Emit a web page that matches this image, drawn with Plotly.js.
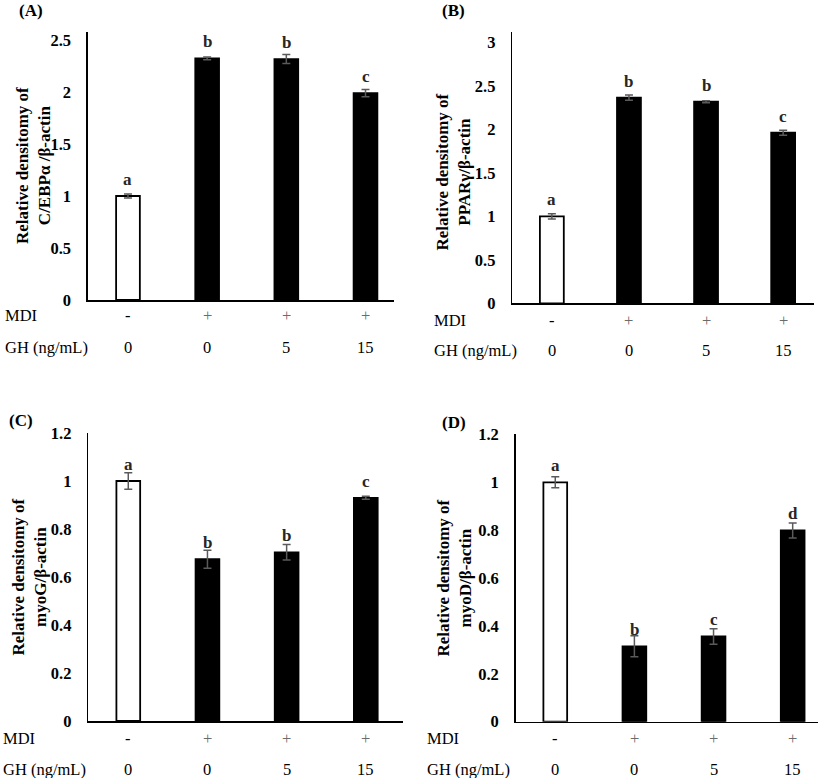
<!DOCTYPE html>
<html>
<head>
<meta charset="utf-8">
<script src="https://cdn.plot.ly/plotly-3.0.1.min.js"></script>
<style>html,body{margin:0;padding:0;background:#fff;}#chart{width:827px;height:778px;}</style>
</head>
<body>
<div id="chart"></div>
<script>
// ---- data ----
const categories = ['Control', 'MDI', 'MDI + GH 5', 'MDI + GH 15'];
const mdiLabels = ['-', '+', '+', '+'];
const ghLabels = ['0', '0', '5', '15'];

const cebpaValues = [1.0, 2.324, 2.317, 1.99];
const cebpaErrors = [0.02, 0.013, 0.043, 0.035];
const cebpaLetters = ['a', 'b', 'b', 'c'];

const ppargValues = [1.0, 2.363, 2.317, 1.961];
const ppargErrors = [0.03, 0.03, 0.012, 0.029];
const ppargLetters = ['a', 'b', 'b', 'c'];

const myogValues = [1.0, 0.674, 0.703, 0.930];
const myogErrors = [0.034, 0.0375, 0.032, 0.006];
const myogLetters = ['a', 'b', 'b', 'c'];

const myodValues = [1.0, 0.315, 0.356, 0.799];
const myodErrors = [0.023, 0.044, 0.032, 0.031];
const myodLetters = ['a', 'b', 'c', 'd'];

const yTitles = ['Relative densitomy of<br>C/EBPα /β-actin',
                 'Relative densitomy of<br>PPARγ/β-actin',
                 'Relative densitomy of<br>myoG/β-actin',
                 'Relative densitomy of<br>myoD/β-actin'];
const panelLabels = ['(A)', '(B)', '(C)', '(D)'];
const tickValsA = [0, 0.5, 1, 1.5, 2, 2.5];
const tickValsB = [0, 0.5, 1, 1.5, 2, 2.5, 3];
const tickValsCD = [0, 0.2, 0.4, 0.6, 0.8, 1, 1.2];

// ---- layout geometry (pixels) ----
const W = 827, H = 778;
const px = v => v / W;
const py = v => 1 - v / H;
const serif = '"Liberation Serif", "Times New Roman", Times, serif';

const panels = [
  {vals: cebpaValues, errs: cebpaErrors, letters: cebpaLetters, ticks: tickValsA,
   xd: [88, 394], yd: [300, 32], xr: [-0.505, 3.36], yr: [0, 2.577],
   rowX: 3, mdiY: 315, ghY: 347, titleX: 33, titleY: 166, labX: 31, labY: 11, bw: 0.30},
  {vals: ppargValues, errs: ppargErrors, letters: ppargLetters, ticks: tickValsB,
   xd: [512.3, 814], yd: [303.3, 32], xr: [-0.513, 3.40], yr: [0, 3.118],
   rowX: 432, mdiY: 320, ghY: 350, titleX: 453.5, titleY: 172, labX: 453, labY: 11, bw: 0.31},
  {vals: myogValues, errs: myogErrors, letters: myogLetters, ticks: tickValsCD,
   xd: [88.3, 402.7], yd: [721, 433], xr: [-0.505, 3.466], yr: [0, 1.2],
   rowX: 1, mdiY: 738, ghY: 769, titleX: 28.5, titleY: 577, labX: 21, labY: 420, bw: 0.30},
  {vals: myodValues, errs: myodErrors, letters: myodLetters, ticks: tickValsCD,
   xd: [515.7, 818], yd: [721.7, 434], xr: [-0.5, 3.32], yr: [0, 1.202],
   rowX: 425, mdiY: 738, ghY: 769, titleX: 453.5, titleY: 578, labX: 454, labY: 422.5, bw: 0.30}
];

const traces = [];
const annotations = [];
const layout = {
  width: W, height: H,
  margin: {l: 0, r: 0, t: 0, b: 0},
  paper_bgcolor: '#ffffff', plot_bgcolor: 'rgba(0,0,0,0)',
  showlegend: false,
  font: {family: serif, color: '#000'}
};

const xIdx = categories.map((c, i) => i);

panels.forEach((p, k) => {
  const n = k + 1;
  const xa = 'x' + (n === 1 ? '' : n);
  const ya = 'y' + (n === 1 ? '' : n);
  traces.push({
    type: 'bar', x: xIdx, y: p.vals, width: p.bw,
    xaxis: xa, yaxis: ya,
    marker: {color: p.vals.map((v, i) => i === 0 ? '#ffffff' : '#000000'),
             line: {color: '#000000', width: 1.8}},
    error_y: {type: 'data', array: p.errs, visible: true, color: '#5a5a5a', thickness: 1.5, width: 4},
    hoverinfo: 'none'
  });
  layout['xaxis' + (n === 1 ? '' : n)] = {
    domain: [px(p.xd[0]), px(p.xd[1])], range: p.xr, anchor: ya,
    showgrid: false, zeroline: false, showline: true, linecolor: '#000', linewidth: 1.6,
    ticks: '', showticklabels: false, fixedrange: true
  };
  layout['yaxis' + (n === 1 ? '' : n)] = {
    domain: [py(p.yd[0]), py(p.yd[1])], range: p.yr, anchor: xa,
    showgrid: false, zeroline: false, showline: true, linecolor: '#000', linewidth: 1.6,
    ticks: '', tickvals: p.ticks, ticktext: p.ticks.map(v => '<b>' + v + '</b>'),
    ticklabelstandoff: 12,
    tickfont: {family: serif, size: 16.5, color: '#000'}, fixedrange: true
  };
  // significance letters
  p.vals.forEach((v, i) => {
    annotations.push({xref: xa, yref: ya, x: i, y: v, text: '<b>' + p.letters[i] + '</b>',
      showarrow: false, yanchor: 'middle', yshift: 16.5,
      font: {family: serif, size: 17, color: '#262626'}});
  });
  // row labels
  annotations.push({xref: 'paper', yref: 'paper', x: px(p.rowX), y: py(p.mdiY), text: 'MDI',
    showarrow: false, xanchor: 'left', yanchor: 'middle', font: {family: serif, size: 16.5, color: '#000'}});
  annotations.push({xref: 'paper', yref: 'paper', x: px(p.rowX), y: py(p.ghY), text: 'GH (ng/mL)',
    showarrow: false, xanchor: 'left', yanchor: 'middle', font: {family: serif, size: 16.5, color: '#000'}});
  xIdx.forEach(i => {
    annotations.push({xref: xa, yref: 'paper', x: i, y: py(p.mdiY), text: mdiLabels[i],
      showarrow: false, yanchor: 'middle',
      font: {family: serif, size: 16.5, color: mdiLabels[i] === '+' ? '#6b6b6b' : '#000'}});
    annotations.push({xref: xa, yref: 'paper', x: i, y: py(p.ghY), text: ghLabels[i],
      showarrow: false, yanchor: 'middle', font: {family: serif, size: 16.5, color: '#000'}});
  });
  // y-axis title
  annotations.push({xref: 'paper', yref: 'paper', x: px(p.titleX), y: py(p.titleY),
    text: '<b>' + yTitles[k] + '</b>', textangle: -90, showarrow: false,
    xanchor: 'center', yanchor: 'middle', align: 'center',
    font: {family: serif, size: 17, color: '#000'}});
  // panel label
  annotations.push({xref: 'paper', yref: 'paper', x: px(p.labX), y: py(p.labY),
    text: '<b>' + panelLabels[k] + '</b>', showarrow: false,
    xanchor: 'center', yanchor: 'middle', font: {family: serif, size: 17, color: '#000'}});
});

layout.annotations = annotations;
Plotly.newPlot('chart', traces, layout, {displayModeBar: false, staticPlot: true});
</script>
</body>
</html>
